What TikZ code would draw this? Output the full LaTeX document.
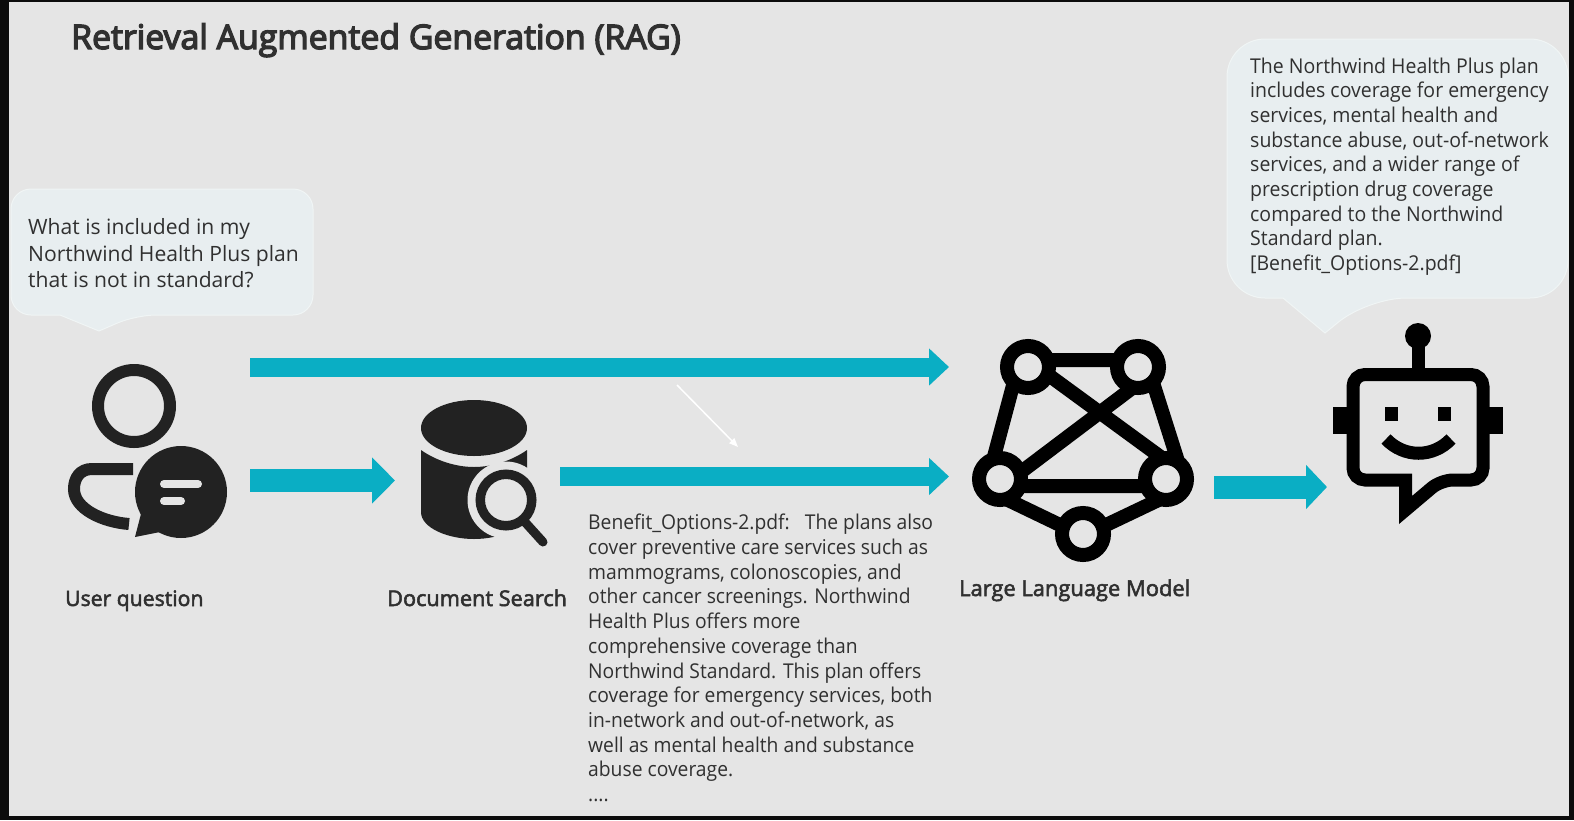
\documentclass[tikz,border=0pt]{standalone}
\usepackage{fontspec}
\setmainfont{Open Sans}
\newfontfamily\titlefont[FakeBold=4]{Open Sans}
\newfontfamily\capfont[FakeBold=2.5]{Open Sans}
\usetikzlibrary{arrows.meta}
\definecolor{bgc}{HTML}{E5E5E5}
\definecolor{edgec}{HTML}{0C0C0C}
\definecolor{bubblec}{HTML}{E8EEF0}
\definecolor{bubbleline}{HTML}{F0F5F5}
\definecolor{flowc}{HTML}{0AAEC4}
\definecolor{inkc}{HTML}{222222}
\definecolor{textc}{HTML}{303030}
\tikzset{
  flow/.style={draw=flowc,line width=19pt,-{Triangle[length=20pt,width=36pt]},shorten >=0pt},
  bubble/.style={fill=bubblec,draw=bubbleline,line width=1pt},
  para/.style={anchor=north west,inner sep=0pt,align=left,text=textc},
  caption/.style={anchor=base west,inner sep=0pt,text=textc},
  inkline/.style={draw=inkc,fill=none},
  net/.style={draw=black,line width=14pt},
  netnode/.style={circle,draw=black,line width=14pt,fill=bgc,minimum size=42pt,inner sep=0pt},
  robot/.style={draw=black,line width=13pt,fill=none},
}
\begin{document}
\begin{tikzpicture}[x=1pt,y=-1pt]
\useasboundingbox (0,0) rectangle (1574,820);
\fill[edgec] (0,0) rectangle (1574,820);
\fill[bgc] (9,2) rectangle (1569,816);

% title
\node[caption,font=\titlefont\fontsize{33.8}{36}\selectfont] (title) at (71,49) {Retrieval Augmented Generation (RAG)};

% left speech bubble
\draw[bubble,rounded corners=20pt] (150,189) -- (313,189) -- (313,315) -- (136,315) [sharp corners] -- (99,331) -- (60,315) [rounded corners=20pt] -- (11,315) -- (11,189) -- cycle;
\node[para,font=\fontsize{21.1}{26.8}\selectfont] (question) at (28,218) {What is included in my\\Northwind Health Plus plan\\that is not in standard?};

% right speech bubble
\draw[bubble,rounded corners=38pt] (1400,39) -- (1568,39) -- (1568,298) -- (1368,298) [sharp corners] -- (1325,333) -- (1283,298) [rounded corners=38pt] -- (1227,298) -- (1227,39) -- cycle;
\node[para,font=\fontsize{20.4}{24.65}\selectfont\addfontfeatures{FakeStretch=0.955}] (answer) at (1250,57.5) {The Northwind Health Plus plan\\includes coverage for emergency\\services, mental health and\\substance abuse, out-of-network\\services, and a wider range of\\prescription drug coverage\\compared to the Northwind\\Standard plan.\\{}[Benefit\_Options-2.pdf]};

% user icon
\draw[inkline,line width=12pt] (134,406) circle (36pt);
\draw[inkline,line width=12pt] (133,469) -- (92,469) .. controls (80,469) and (74,478) .. (74,489) .. controls (74,509) and (103,522) .. (129,524);
\fill[inkc] (181,492) circle (46pt);
\fill[inkc] (142,510) -- (135,537) -- (165,531) -- cycle;
\draw[bgc,line width=8pt,line cap=round] (164,484) -- (198,484);
\draw[bgc,line width=8pt,line cap=round] (164,501) -- (181,501);
\node[caption,font=\capfont\fontsize{21.2}{24.7}\selectfont] (usercap) at (65,606) {User question};

% document search icon
\fill[inkc] (421,450) .. controls (435,460) and (455,467) .. (474,467) .. controls (493,467) and (513,460) .. (527,450) -- (527,512) .. controls (527,528) and (500,539) .. (474,539) .. controls (448,539) and (421,528) .. (421,512) -- cycle;
\fill[inkc] (474,428) ellipse (53pt and 28pt);
\fill[bgc] (506,500) circle (38.5pt);
\draw[inkline,line width=9.5pt] (506,500) circle (25.75pt);
\draw[inkline,line width=9pt,line cap=round] (524,521) -- (543,542);
\node[caption,font=\capfont\fontsize{21.7}{24.7}\selectfont] (doccap) at (387,606) {Document Search};

% passage text
\node[para,font=\fontsize{20.4}{24.7}\selectfont\addfontfeatures{FakeStretch=0.945}] (passage) at (588,514) {Benefit\_Options-2.pdf:\ \ \ The plans also\\cover preventive care services such as\\mammograms, colonoscopies, and\\other cancer screenings. Northwind\\Health Plus offers more\\comprehensive coverage than\\Northwind Standard. This plan offers\\coverage for emergency services, both\\in-network and out-of-network, as\\well as mental health and substance\\abuse coverage.\\....};

% network icon
\coordinate (tl) at (1028,367);
\coordinate (tr) at (1138,367);
\coordinate (ml) at (1000,479);
\coordinate (mr) at (1166,479);
\coordinate (bt) at (1083,534);
\draw[net] ([shift={(0,-7)}]tl) -- ([shift={(0,-7)}]tr)
  ([shift={(-14.7,17.2)}]tl) -- ([shift={(-6.3,-21.2)}]ml)
  ([shift={(15.5,17.2)}]tr) -- ([shift={(11.5,-19.2)}]mr)
  ([shift={(20.5,8)}]tl) -- ([shift={(-4,-21)}]mr)
  ([shift={(-7,22)}]tr) -- ([shift={(21,-7)}]ml)
  ([shift={(0,7)}]ml) -- ([shift={(0,7)}]mr)
  ([shift={(8,21)}]ml) -- ([shift={(-20.5,-7.8)}]bt)
  ([shift={(-7.5,21)}]mr) -- ([shift={(20.5,-7.8)}]bt);
\node[netnode] (ntl) at (tl) {};
\node[netnode] (ntr) at (tr) {};
\node[netnode] (nml) at (ml) {};
\node[netnode] (nmr) at (mr) {};
\node[netnode] (nbt) at (bt) {};
\node[caption,font=\capfont\fontsize{21.9}{24.7}\selectfont] (llmcap) at (959,596) {Large Language Model};

% robot icon
\draw[robot,rounded corners=12pt] (1400,374.5) -- (1483,374.5) -- (1483,480) -- (1441,480) [sharp corners] -- (1405.5,510) -- (1405.5,480) [rounded corners=12pt] -- (1353,480) -- (1353,374.5) -- cycle;
\draw[black,line width=13pt] (1418,345) -- (1418,370);
\fill[black] (1418,336) circle (13pt);
\fill[black] (1333,407) rectangle (1347,434);
\fill[black] (1489,407) rectangle (1503,434);
\fill[black] (1385,407) rectangle (1398,421);
\fill[black] (1438,407) rectangle (1451,421);
\draw[black,line width=13pt] (1386,439) .. controls (1404,458) and (1433,458) .. (1451,439);

% flow arrows
\coordinate (a1s) at (250,367); \coordinate (a1e) at (949,367);
\coordinate (a2s) at (250,480.5); \coordinate (a2e) at (395,480.5);
\coordinate (a3s) at (560,476.5); \coordinate (a3e) at (949,476.5);
\coordinate (a4s) at (1214,487); \coordinate (a4e) at (1327,487);
\draw[flow] (a1s) -- (a1e);
\draw[flow,line width=23pt,-{Triangle[length=23pt,width=45pt]}] (a2s) -- (a2e);
\draw[flow] (a3s) -- (a3e);
\draw[flow,line width=23pt,-{Triangle[length=21pt,width=43pt]}] (a4s) -- (a4e);

% thin white pointer
\coordinate (ps) at (677,385); \coordinate (pe) at (738,447);
\draw[white,line width=1.5pt,-{Triangle[length=9pt,width=7pt]}] (ps) -- (pe);
\end{tikzpicture}
\end{document}
